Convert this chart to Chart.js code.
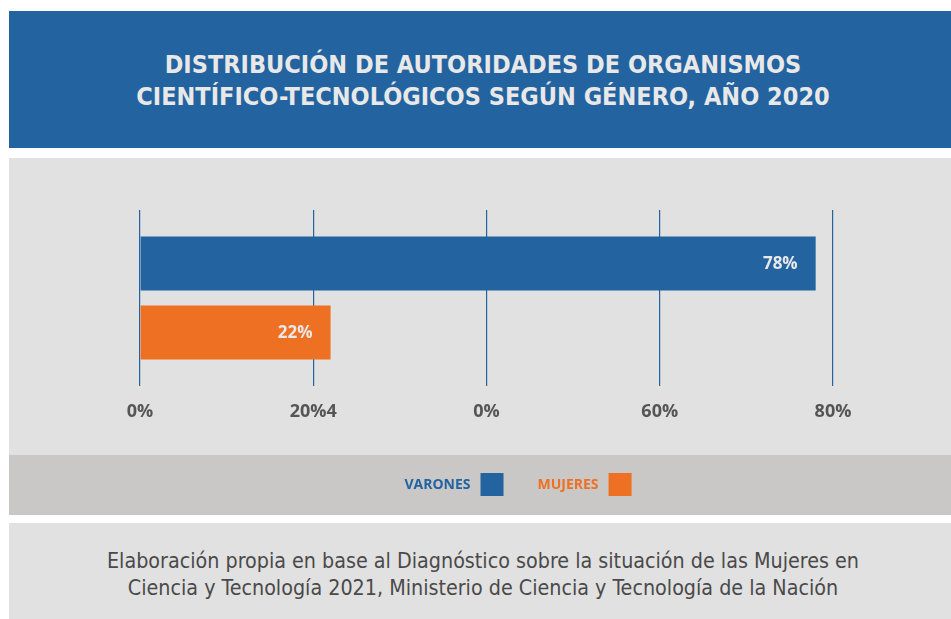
<!DOCTYPE html>
<html lang="es">
<head>
    <meta charset="UTF-8">
    <title>Autoridades de organismos CyT según género</title>
    <script src="https://cdn.jsdelivr.net/npm/chart.js"></script>
    <style>
        body {
            margin: 0;
            background: #ffffff;
            width: 951px;
            height: 619px;
            position: relative;
            overflow: hidden;
        }
        #header {
            position: absolute;
            left: 9px; top: 11px;
            width: 942px; height: 137px;
            background: #2363a0;
            color: #e8e8e8;
            font-family: "Liberation Sans Narrow", "DejaVu Sans Condensed", sans-serif;
            font-weight: bold;
            font-size: 25px;
            line-height: 32px;
            text-align: center;
            box-sizing: border-box;
            padding-top: 38px;
            padding-left: 6px;
        }
        #chartWrap {
            position: absolute;
            left: 9px; top: 158px;
            width: 942px; height: 357px;
        }
        #footer {
            position: absolute;
            left: 9px; top: 523px;
            width: 942px; height: 96px;
            background: #e1e1e1;
            color: #4a4a4a;
            font-family: "Liberation Sans Narrow", "DejaVu Sans Condensed", sans-serif;
            font-size: 21.3px;
            line-height: 27px;
            text-align: center;
            box-sizing: border-box;
            padding-top: 24px;
            padding-left: 6px;
        }
    </style>
</head>
<body>
    <div id="header">DISTRIBUCIÓN DE AUTORIDADES DE ORGANISMOS<br>CIENTÍFICO-TECNOLÓGICOS SEGÚN GÉNERO, AÑO 2020</div>
    <div id="chartWrap"><canvas id="chart" width="942" height="357"></canvas></div>
    <div id="footer">Elaboración propia en base al Diagnóstico sobre la situación de las Mujeres en<br>Ciencia y Tecnología 2021, Ministerio de Ciencia y Tecnología de la Nación</div>

    <script>
        // data
        const categories = ["Autoridades"];
        const seriesNames = ["VARONES", "MUJERES"];
        const varones = [78];
        const mujeres = [22];
        const tickLabels = ["0%", "20%4", "0%", "60%", "80%"];

        const BLUE = "#2363a0";
        const ORANGE = "#ee7023";
        const LABEL_FONT = "'Open Sans', sans-serif";

        // backgrounds: chart panel + darker legend band
        const panelBg = {
            id: "panelBg",
            beforeDraw(chart) {
                const ctx = chart.ctx;
                ctx.save();
                ctx.fillStyle = "#e1e1e1";
                ctx.fillRect(0, 0, chart.width, 297);
                ctx.fillStyle = "#c9c8c6";
                ctx.fillRect(0, 297, chart.width, chart.height - 297);
                ctx.restore();
            }
        };

        // value labels inside the end of each bar
        const barValues = {
            id: "barValues",
            afterDatasetsDraw(chart) {
                const ctx = chart.ctx;
                ctx.save();
                ctx.font = "bold 17px " + LABEL_FONT;
                ctx.fillStyle = "#e8e8e8";
                ctx.textAlign = "right";
                ctx.textBaseline = "middle";
                chart.data.datasets.forEach((ds, i) => {
                    chart.getDatasetMeta(i).data.forEach((bar, j) => {
                        ctx.fillText(ds.data[j] + "%", bar.x - 18, bar.y + 1);
                    });
                });
                ctx.restore();
            }
        };

        // legend: text first, then the colour square
        const sideLegend = {
            id: "sideLegend",
            afterDraw(chart) {
                const ctx = chart.ctx;
                const box = 23, gap = 10, space = 34;
                ctx.save();
                ctx.font = "bold 14px " + LABEL_FONT;
                ctx.textBaseline = "middle";
                const items = chart.data.datasets.map(ds => ({
                    text: ds.label, color: ds.backgroundColor, w: ctx.measureText(ds.label).width
                }));
                const total = items.reduce((s, it) => s + it.w + gap + box, 0) + space * (items.length - 1);
                let x = 509 - total / 2;
                const cy = 326.5;
                items.forEach(it => {
                    ctx.fillStyle = it.color;
                    ctx.fillText(it.text, x, cy + 1);
                    x += it.w + gap;
                    ctx.fillRect(x, cy - box / 2, box, box);
                    x += box + space;
                });
                ctx.restore();
            }
        };

        new Chart(document.getElementById("chart"), {
            type: "bar",
            data: {
                labels: categories,
                datasets: [
                    { label: seriesNames[0], data: varones, backgroundColor: BLUE },
                    { label: seriesNames[1], data: mujeres, backgroundColor: ORANGE }
                ]
            },
            options: {
                indexAxis: "y",
                responsive: false,
                animation: false,
                layout: { padding: { top: 52, left: 131, right: 118, bottom: 79 } },
                datasets: {
                    bar: { categoryPercentage: 0.784, barPercentage: 0.783 }
                },
                scales: {
                    x: {
                        min: 0,
                        max: 80,
                        afterFit(scale) { scale.height = 50; },
                        ticks: {
                            stepSize: 20,
                            padding: 15,
                            color: "#555555",
                            font: { family: LABEL_FONT, size: 18, weight: "bold" },
                            maxRotation: 0,
                            callback: (v, i) => tickLabels[i]
                        },
                        grid: { color: BLUE, lineWidth: 1.2, drawTicks: false },
                        border: { display: false }
                    },
                    y: { display: false }
                },
                plugins: {
                    legend: { display: false },
                    tooltip: { enabled: false }
                }
            },
            plugins: [panelBg, barValues, sideLegend]
        });
    </script>
</body>
</html>
